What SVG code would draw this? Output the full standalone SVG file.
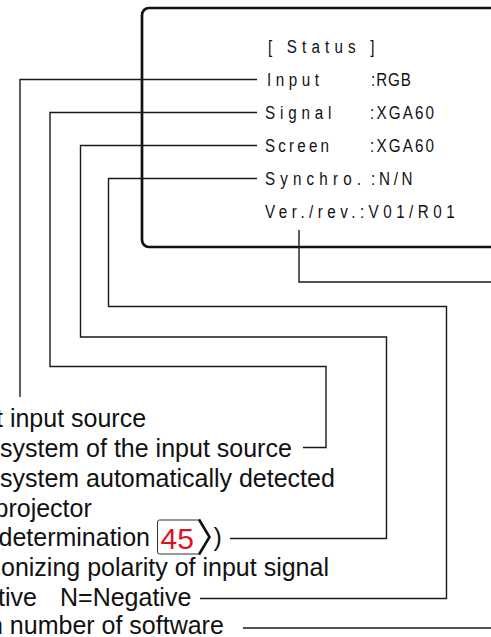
<svg xmlns="http://www.w3.org/2000/svg" width="491" height="637" viewBox="0 0 491 637">
<style>
  .lcd { font-family: "Liberation Sans", Arial, sans-serif; font-size: 19px; fill: #111; }
  .desc { font-family: "Liberation Sans", Arial, sans-serif; font-size: 25px; fill: #111; }
  .conn { fill: none; stroke: #1a1a1a; stroke-width: 1.4; }
  .frame { fill: #fff; stroke: #111; stroke-width: 2.7; }
  .ref { font-family: "Liberation Sans", Arial, sans-serif; font-size: 30px; fill: #e0101f; }
</style>
<rect width="491" height="637" fill="#fff"/>

<g id="status-panel">
  <rect class="frame" x="142" y="8" width="380" height="239" rx="7"/>
  <text class="lcd" transform="translate(268,53) scale(0.8,1)" textLength="133" lengthAdjust="spacing">[ Status ]</text>
  <g id="row-input">
    <text class="lcd" transform="translate(267,86) scale(0.8,1)" textLength="65" lengthAdjust="spacing">Input</text>
    <text class="lcd" transform="translate(371,86) scale(0.8,1)" textLength="50" lengthAdjust="spacing">:RGB</text>
  </g>
  <g id="row-signal">
    <text class="lcd" transform="translate(265,119) scale(0.8,1)" textLength="83" lengthAdjust="spacing">Signal</text>
    <text class="lcd" transform="translate(370,119) scale(0.8,1)" textLength="80" lengthAdjust="spacing">:XGA60</text>
  </g>
  <g id="row-screen">
    <text class="lcd" transform="translate(265,152) scale(0.8,1)" textLength="80" lengthAdjust="spacing">Screen</text>
    <text class="lcd" transform="translate(370,152) scale(0.8,1)" textLength="80" lengthAdjust="spacing">:XGA60</text>
  </g>
  <g id="row-synchro">
    <text class="lcd" transform="translate(265,185) scale(0.8,1)" textLength="120" lengthAdjust="spacing">Synchro.</text>
    <text class="lcd" transform="translate(371,185) scale(0.8,1)" textLength="52" lengthAdjust="spacing">:N/N</text>
  </g>
  <g id="row-version">
    <text class="lcd" transform="translate(265,218) scale(0.8,1)" textLength="237" lengthAdjust="spacing">Ver./rev.:V01/R01</text>
  </g>
</g>

<g id="connectors">
  <path class="conn" d="M257,79.5 H20 V397"/>
  <path class="conn" d="M257,112.5 H50 V366.5 H326 V447.5 H303"/>
  <path class="conn" d="M257,145.5 H80.5 V337 H386.5 V538.5 H230"/>
  <path class="conn" d="M257,178.5 H108.5 V306.5 H446.5 V598.5 H200"/>
  <path class="conn" d="M299,230 V282 H491"/>
  <path class="conn" d="M243,628 H491"/>
</g>

<g id="desc-input"><text class="desc" x="-4" y="427">t input source</text></g>
<g id="desc-signal"><text class="desc" x="0" y="457">system of the input source</text></g>
<g id="desc-screen">
  <text class="desc" x="0" y="487">system automatically detected</text>
  <text class="desc" x="-5.5" y="517">projector</text>
  <text class="desc" x="-1.5" y="546">determination</text>
  <g id="ref-45">
    <path d="M200,520 H159.5 Q157.5,520 157.5,522 V552 Q157.5,554 159.5,554 H200" fill="#fff" stroke="#333" stroke-width="1"/>
    <path d="M199,519.5 L209.5,537 L199,554.5" fill="none" stroke="#111" stroke-width="2.6"/>
    <text class="ref" x="160.5" y="549">45</text>
  </g>
  <text class="desc" x="213.5" y="546">)</text>
</g>
<g id="desc-synchro">
  <text class="desc" x="1" y="576">onizing polarity of input signal</text>
  <text class="desc" x="-2" y="606">tive <tspan x="60">N=Negative</tspan></text>
</g>
<g id="desc-version"><text class="desc" x="-11" y="634">n number of software</text></g>
</svg>
